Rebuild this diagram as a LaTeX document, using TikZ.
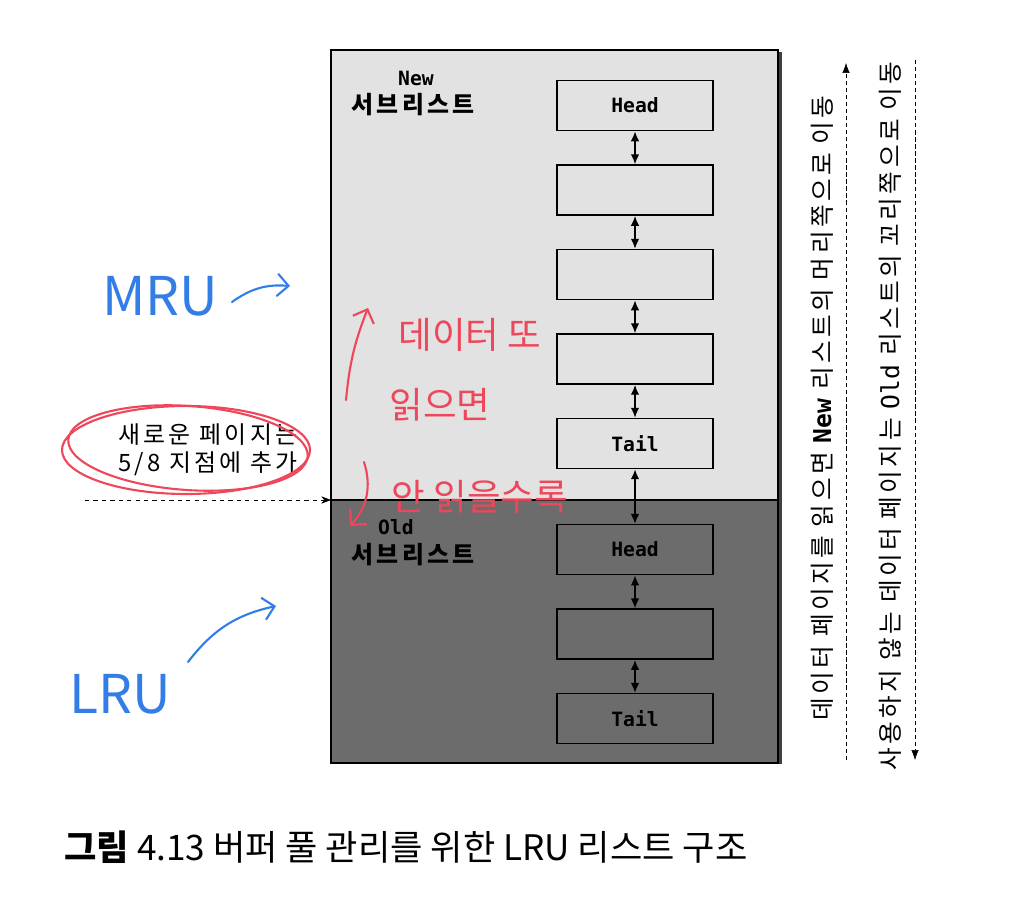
\documentclass[tikz,border=0pt]{standalone}
\usepackage{fontspec}
\setmainfont{Noto Sans CJK KR}
\newfontfamily\krwide[LetterSpace=14]{Noto Sans CJK KR}
\newfontfamily\monofont{DejaVu Sans Mono}
\usetikzlibrary{positioning,arrows.meta}
\definecolor{newgray}{RGB}{226,226,226}
\definecolor{oldgray}{RGB}{108,108,108}
\definecolor{redpen}{RGB}{238,70,90}
\definecolor{bluepen}{RGB}{50,125,230}

\begin{document}
\begin{tikzpicture}[
  lru/.style={draw, line width=1.2pt, minimum width=3.9cm, minimum height=1.25cm,
    font=\monofont\bfseries\fontsize{14}{16}\selectfont},
  link/.style={{Latex[length=7pt,width=6pt]}-{Latex[length=7pt,width=6pt]}, line width=1pt},
  tag/.style={font=\monofont\bfseries\fontsize{14}{16}\selectfont},
  side/.style={rotate=90, font=\krwide\fontsize{17.5}{20}\selectfont},
  pen/.style={line width=1.5pt, line cap=round, line join=round},
  node distance=0.82cm
]
\useasboundingbox (0,0) rectangle (25.525,22.45);

% buffer pool
\fill[newgray] (8.275,9.95) rectangle (19.45,21.2);
\fill[oldgray] (8.275,3.375) rectangle (19.45,9.95);
\draw[line width=2pt, black!75] (19.52,3.35) -- (19.52,21.15);
\draw[line width=1.6pt] (8.275,3.375) rectangle (19.45,21.2);
\coordinate (midl) at (8.275,9.95);
\coordinate (midr) at (19.45,9.95);
\draw[line width=1.6pt] (midl) -- (midr);

\node[tag] (newtag) at (10.4,20.5) {New};
\node[font=\krwide\bfseries\fontsize{17}{20}\selectfont] (newname) at (10.33,19.83) {서브리스트};
\node[tag] (oldtag) at (9.9,9.28) {Old};
\node[font=\krwide\bfseries\fontsize{17}{20}\selectfont] (oldname) at (10.33,8.58) {서브리스트};

% list
\node[lru] (nhead) at (15.875,19.81) {Head};
\node[lru, below=of nhead] (n2) {};
\node[lru, below=of n2] (n3) {};
\node[lru, below=of n3] (n4) {};
\node[lru, below=of n4] (ntail) {Tail};
\node[lru, below=1.36cm of ntail] (ohead) {Head};
\node[lru, below=of ohead] (o2) {};
\node[lru, below=of o2] (otail) {Tail};

\foreach \a/\b in {nhead/n2,n2/n3,n3/n4,n4/ntail,ntail/ohead,ohead/o2,o2/otail}
  \draw[link] (\a) -- (\b);

% new page
\node[align=left, font=\krwide\fontsize{17}{20}\selectfont] (newpage) at (5.2,11.2) {새로운 페이지는\\5/8 지점에 추가};
\coordinate (insert) at (2.125,9.95);
\draw[dashed, -{Stealth[length=7pt]}] (insert) -- (midl);

% moves
\coordinate (up0) at (21.15,3.45);
\coordinate (up1) at (21.15,20.875);
\draw[densely dashed, -{Latex[length=7pt]}] (up0) -- (up1);
\node[side] (uptext) at (20.55,12.25) {데이터 페이지를 읽으면 {\monofont\bfseries New} 리스트의 머리쪽으로 이동};
\coordinate (dn0) at (22.875,20.95);
\coordinate (dn1) at (22.875,3.45);
\draw[densely dashed, -{Latex[length=7pt]}] (dn0) -- (dn1);
\node[side] (dntext) at (22.25,12.05) {사용하지 않는 데이터 페이지는 {\monofont Old} 리스트의 꼬리쪽으로 이동};

% caption
\node[font=\fontsize{25}{30}\selectfont] (caption) at (10.15,1.275) {\textbf{그림} 4.13 버퍼 풀 관리를 위한 LRU 리스트 구조};

% pen notes
\draw[redpen, pen] (4.65,11.2) ellipse (3.1cm and 1.1cm);
\draw[redpen, pen, rotate around={-4:(4.7,11.25)}] (4.7,11.25) ellipse (3.0cm and 1.05cm);
\node[redpen, font=\fontsize{26}{30}\selectfont] (readagain) at (11.75,14.08) {데이터 또};
\node[redpen, font=\fontsize{26}{30}\selectfont] (ifread) at (11.0,12.33) {읽으면};
\node[redpen, font=\fontsize{26}{30}\selectfont] (unread) at (12.0,10.03) {안 읽을수록};
\coordinate (r0) at (8.65,12.45);
\coordinate (r1) at (9.2,14.75);
\draw[redpen, pen, -{Straight Barb[length=8pt]}] (r0) to[bend left=8] (r1);
\coordinate (r2) at (9.1,10.9);
\coordinate (r3) at (8.75,9.3);
\draw[redpen, pen, -{Straight Barb[length=8pt]}] (r2) to[bend left=30] (r3);

\node[bluepen, font=\fontsize{38}{40}\selectfont] (mru) at (4.0,15.05) {MRU};
\node[bluepen, font=\fontsize{38}{40}\selectfont] (lru) at (3.0,5.1) {LRU};
\coordinate (b0) at (5.8,14.9);
\coordinate (b1) at (7.25,15.3);
\draw[bluepen, pen, -{Straight Barb[length=8pt]}] (b0) to[bend left=20] (b1);
\coordinate (b2) at (4.7,5.9);
\coordinate (b3) at (6.9,7.3);
\draw[bluepen, pen, -{Straight Barb[length=8pt]}] (b2) to[bend left=20] (b3);
\end{tikzpicture}
\end{document}
